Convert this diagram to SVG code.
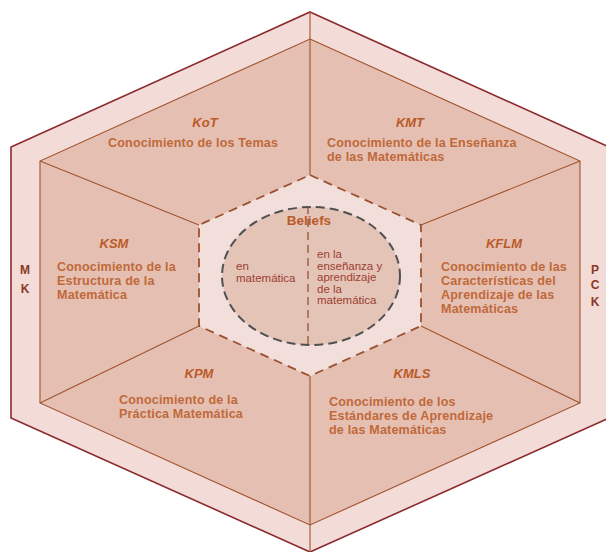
<svg xmlns="http://www.w3.org/2000/svg" width="606" height="552" viewBox="0 0 606 552">
<style>
.band{fill:#f3dbd8;stroke:none}
.sector{fill:#e5c0b2;stroke:none}
.lbl{font-family:"Liberation Sans",Arial,sans-serif;font-weight:bold;font-style:italic;font-size:13px;fill:#bb5a28;text-anchor:middle}
.body{font-family:"Liberation Sans",Arial,sans-serif;font-weight:bold;font-size:12.6px;letter-spacing:0.15px;fill:#c0693a}
.side{font-family:"Liberation Sans",Arial,sans-serif;font-weight:bold;font-size:12px;fill:#8a3a24;text-anchor:middle}
.ctr{font-family:"Liberation Sans",Arial,sans-serif;font-size:11.5px;fill:#9c3e30}
.div{stroke:#a0522d;stroke-width:1.1;fill:none}
</style>
<rect width="606" height="552" fill="#ffffff"/>
<g id="mk">
<polygon class="band" points="310,12 11,147 11,418 310,552"/>
<text class="side" x="25" y="274">M</text>
<text class="side" x="25" y="293">K</text>
</g>
<g id="pck">
<polygon class="band" points="310,12 609,147 609,418 310,552"/>
<text class="side" x="595" y="274">P</text>
<text class="side" x="595" y="289">C</text>
<text class="side" x="595" y="306">K</text>
</g>
<polygon points="310,12 609,147 609,418 310,552 11,418 11,147" fill="none" stroke="#8b2a2a" stroke-width="1.6"/>
<g id="kot">
<polygon class="sector" points="310,39 310,175 199,225 40,161"/>
<text class="lbl" x="205" y="127">KoT</text>
<text class="body" x="108" y="147">Conocimiento de los Temas</text>
</g>
<g id="kmt">
<polygon class="sector" points="310,39 580,161 421,225 310,175"/>
<text class="lbl" x="410" y="127">KMT</text>
<text class="body" x="327" y="147">Conocimiento de la Enseñanza</text>
<text class="body" x="327" y="161">de las Matemáticas</text>
</g>
<g id="kflm">
<polygon class="sector" points="580,161 580,403 421,326 421,225"/>
<text class="lbl" x="504" y="248">KFLM</text>
<text class="body" x="441" y="271">Conocimiento de las</text>
<text class="body" x="441" y="285">Características del</text>
<text class="body" x="441" y="299">Aprendizaje de las</text>
<text class="body" x="441" y="313">Matemáticas</text>
</g>
<g id="kmls">
<polygon class="sector" points="580,403 310,525 310,376 421,326"/>
<text class="lbl" x="412" y="378">KMLS</text>
<text class="body" x="329" y="406">Conocimiento de los</text>
<text class="body" x="329" y="420">Estándares de Aprendizaje</text>
<text class="body" x="329" y="434">de las Matemáticas</text>
</g>
<g id="kpm">
<polygon class="sector" points="310,525 40,403 199,326 310,376"/>
<text class="lbl" x="199" y="378">KPM</text>
<text class="body" x="119" y="404">Conocimiento de la</text>
<text class="body" x="119" y="418">Práctica Matemática</text>
</g>
<g id="ksm">
<polygon class="sector" points="40,403 40,161 199,225 199,326"/>
<text class="lbl" x="114" y="248">KSM</text>
<text class="body" x="57" y="271">Conocimiento de la</text>
<text class="body" x="57" y="285">Estructura de la</text>
<text class="body" x="57" y="299">Matemática</text>
</g>
<g id="connectors">
<polygon class="div" points="310,39 580,161 580,403 310,525 40,403 40,161"/>
<line class="div" x1="310" y1="12" x2="310" y2="175"/>
<line class="div" x1="310" y1="376" x2="310" y2="552"/>
<line class="div" x1="40" y1="161" x2="199" y2="225"/>
<line class="div" x1="580" y1="161" x2="421" y2="225"/>
<line class="div" x1="40" y1="403" x2="199" y2="326"/>
<line class="div" x1="580" y1="403" x2="421" y2="326"/>
</g>
<g id="beliefs">
<polygon points="310,175 421,225 421,326 310,376 199,326 199,225" fill="#f2dedb" stroke="#9a5230" stroke-width="1.8" stroke-dasharray="9 6"/>
<ellipse cx="311" cy="276" rx="89" ry="69" fill="#e5c4b8" stroke="#505050" stroke-width="2" stroke-dasharray="9 5"/>
<line x1="308" y1="206" x2="308" y2="345" stroke="#8b4a2b" stroke-width="1.2" stroke-dasharray="8 5"/>
<text class="lbl" x="309" y="225" style="font-style:normal;font-size:13.5px">Beliefs</text>
<text class="ctr" x="236" y="269.5">en</text>
<text class="ctr" x="236" y="282">matemática</text>
<text class="ctr" x="317" y="257.5">en la</text>
<text class="ctr" x="317" y="269.5">enseñanza y</text>
<text class="ctr" x="317" y="281">aprendizaje</text>
<text class="ctr" x="317" y="292.5">de la</text>
<text class="ctr" x="317" y="304">matemática</text>
</g>
</svg>
